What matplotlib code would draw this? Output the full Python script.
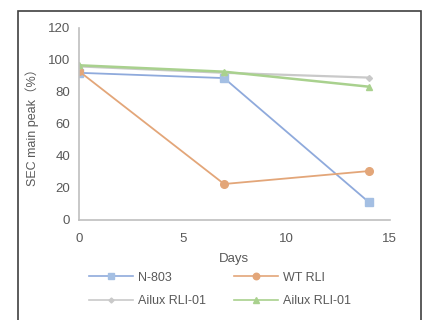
import matplotlib
matplotlib.use("Agg")
import matplotlib.pyplot as plt
from matplotlib.patches import Rectangle

plt.rcParams['font.family'] = ['Liberation Sans', 'Noto Sans CJK SC', 'DejaVu Sans']

days = [0, 7, 14]
n803 = [92, 88.7, 11]
wt_rli = [93, 22.5, 30.6]
ailux_gray = [96, 92, 89]
ailux_green = [96.7, 92.7, 83.3]

series_names = ["N-803", "WT RLI", "Ailux RLI-01", "Ailux RLI-01"]
x_ticks = [0, 5, 10, 15]
y_ticks = [0, 20, 40, 60, 80, 100, 120]

fig = plt.figure(figsize=(4.27, 3.2), dpi=100)
ax = fig.add_axes([0.185, 0.3125, 0.728, 0.6])

text_col = "#595959"
fs = 9.5
h1, = ax.plot(days, n803, color="#8faadc", lw=1.3, marker="s", ms=5.5,
              mfc="#a4bfe3", mec="#a4bfe3", label=series_names[0])
h2, = ax.plot(days, wt_rli, color="#e3a679", lw=1.3, marker="o", ms=5.5,
              mfc="#e3a679", mec="#e3a679", label=series_names[1])
h3, = ax.plot(days, ailux_gray, color="#c9c9c9", lw=1.6, marker="D", ms=3,
              mfc="#c9c9c9", mec="#c9c9c9", label=series_names[2])
h4, = ax.plot(days, ailux_green, color="#a9d18e", lw=1.8, marker="^", ms=5,
              mfc="#a9d18e", mec="#a9d18e", label=series_names[3])

ax.set_xlim(0, 15)
ax.set_ylim(0, 120)
ax.set_xticks(x_ticks)
ax.set_yticks(y_ticks)
ax.tick_params(length=0, labelsize=fs, colors=text_col)
ax.tick_params(axis="x", pad=9)
ax.tick_params(axis="y", pad=6.5)
for s in ["top", "right"]:
    ax.spines[s].set_visible(False)
for s in ["left", "bottom"]:
    ax.spines[s].set_color("#bfbfbf")
    ax.spines[s].set_linewidth(1.2)
ax.set_xlabel("Days", fontsize=fs, color=text_col, labelpad=6)
ax.set_ylabel("SEC main peak（%）", fontsize=9, color=text_col, labelpad=6)

leg = fig.legend(handles=[h1, h3, h2, h4], ncol=2, loc="upper left",
                 bbox_to_anchor=(0.182, 0.186), frameon=False, fontsize=9,
                 handlelength=3.5, columnspacing=2.3, labelspacing=0.92,
                 handletextpad=0.4, labelcolor=text_col, markerscale=0.85)
for ln in leg.get_lines():
    ln.set_linewidth(1.2)

fig.patches.append(Rectangle((0.042, -0.05), 0.944, 1.016, transform=fig.transFigure,
                             fill=False, edgecolor="#404040", lw=1.2))

fig.savefig("out.png", dpi=100)
